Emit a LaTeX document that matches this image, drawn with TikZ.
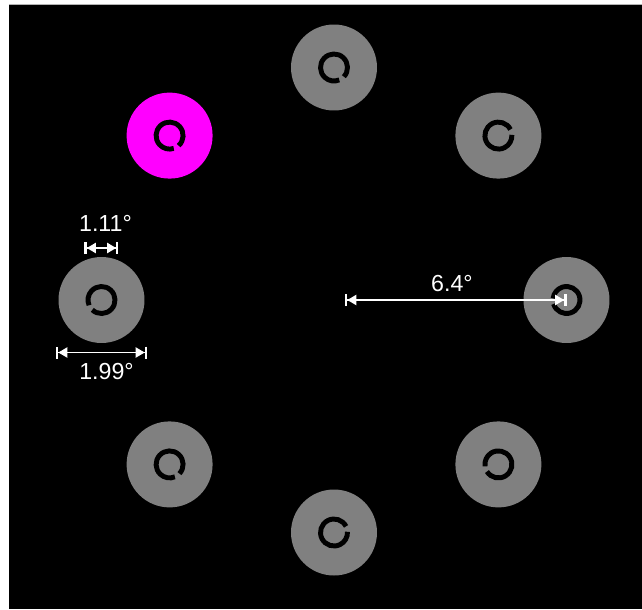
\documentclass[tikz,border=0pt]{standalone}
\usepackage{fontspec}
\setmainfont{Liberation Sans}
\usepackage{tikz}
\usetikzlibrary{arrows.meta, calc}
\definecolor{diskgray}{RGB}{128,128,128}
\definecolor{cuemagenta}{RGB}{255,0,255}
\tikzstyle{disk} = [circle, minimum size=1.72cm, inner sep=0pt, fill=diskgray]
\tikzstyle{target} = [disk, fill=cuemagenta]
\tikzstyle{cring} = [line width=2.8pt, black]
\tikzstyle{dimline} = [white, line width=1.1pt, {Bar[width=0.24cm,line width=1.3pt]Triangle[length=0.18cm,width=0.2cm,sep=0pt]}-{Triangle[length=0.18cm,width=0.2cm,sep=0pt]Bar[width=0.24cm,line width=1.3pt]}]
\tikzstyle{dimlabel} = [text=white, inner sep=0pt, font=\fontsize{13.2}{15}\selectfont]
\newcommand{\landolt}[2]{\draw[cring] (#1.center) ++(#2+12:13.5) arc[start angle=#2+12, end angle=#2+348, radius=13.5];}

\begin{document}
\begin{tikzpicture}[x=0.02cm, y=0.02cm]

% Screen
\fill[white] (-334,300) rectangle (308,-309);
\useasboundingbox (-334,300) rectangle (308,-309);
\fill[black] (-325,296) rectangle (308,-309);
\draw[gray!60, line width=0.4pt] (-325,296) -- (308,296);

% Disks
\node (pE) [disk] at (0:232.5) {};
\node (pNE) [disk] at (45:232.5) {};
\node (pN) [disk] at (90:232.5) {};
\node (pNW) [target] at (135:232.5) {};
\node (pW) [disk] at (180:232.5) {};
\node (pSW) [disk] at (225:232.5) {};
\node (pS) [disk] at (270:232.5) {};
\node (pSE) [disk] at (315:232.5) {};

% Landolt rings
\landolt{pE}{185}
\landolt{pNE}{15}
\landolt{pN}{-55}
\landolt{pNW}{-60}
\landolt{pW}{215}
\landolt{pSW}{-55}
\landolt{pS}{15}
\landolt{pSE}{200}

% Dimensions
\coordinate (gapL) at ($(pW)+(-17,52)$);
\coordinate (gapR) at ($(pW)+(17,52)$);
\coordinate (sizeL) at ($(pW)+(-45.5,-52.5)$);
\coordinate (sizeR) at ($(pW)+(45.5,-52.5)$);
\coordinate (fix) at (11,0);
\draw [dimline] (gapL) -- (gapR);
\draw [dimline] (sizeL) -- (sizeR);
\draw [dimline] (fix) -- (pE.center);
\node (gaplabel) [dimlabel] at ($(pW)+(4,77)$) {1.11°};
\node (sizelabel) [dimlabel] at ($(pW)+(5,-71.5)$) {1.99°};
\node (ecclabel) [dimlabel] at (118,16) {6.4°};

\end{tikzpicture}
\end{document}
